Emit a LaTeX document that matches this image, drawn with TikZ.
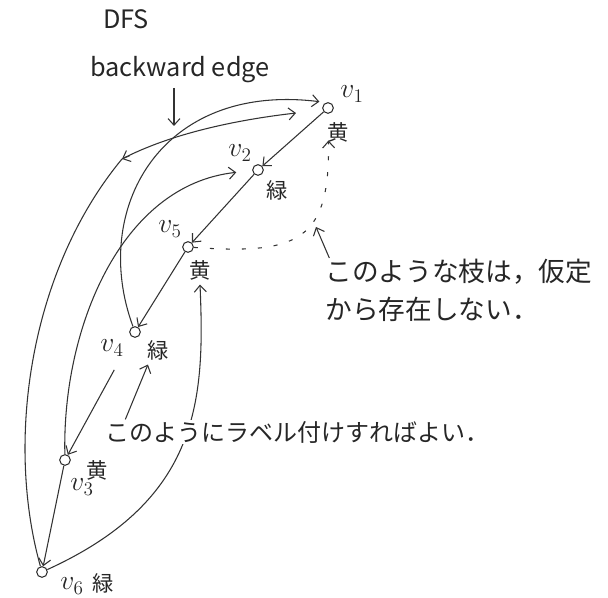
\documentclass[tikz,border=0pt]{standalone}
\usepackage{fontspec}
\setmainfont{Noto Sans CJK JP}
\usetikzlibrary{arrows.meta}

\begin{document}
\begin{tikzpicture}[x=0.75pt,y=-0.75pt,
		vert/.style={draw=black!80,circle,inner sep=0pt,minimum size=8pt,line width=0.8pt},
		arista/.style={draw=black!80,line width=0.8pt,-{Straight Barb[length=5pt,width=9pt]}},
		punteada/.style={arista,dash pattern=on 3pt off 9pt},
		nombre/.style={text=black!85,font=\fontsize{20}{22}\selectfont},
		etiq/.style={text=black!85,font=\fontsize{16}{18}\selectfont},
		titulo/.style={text=black!85,font=\fontsize{19}{22}\selectfont},
		nota/.style={text=black!85,align=left,fill=white,inner sep=1pt}]
		
		% Marco del dibujo
		\useasboundingbox (0,0) rectangle (608,598);
		
		% Vertices del arbol DFS
		\node[vert] (v1) at (328,108) {};
		\node[vert] (v2) at (258,170) {};
		\node[vert] (v5) at (188,247) {};
		\node[vert] (v4) at (135,332) {};
		\node[vert] (v3) at (65,460) {};
		\node[vert] (v6) at (42,572) {};
		
		% Nombres y colores de los vertices
		\node[nombre] (n1) at (352,94) {$v_1$};
		\node[nombre] (n2) at (240,153) {$v_2$};
		\node[nombre] (n5) at (170,229) {$v_5$};
		\node[nombre] (n4) at (112,348) {$v_4$};
		\node[nombre] (n3) at (82,487) {$v_3$};
		\node[nombre] (n6) at (72,586) {$v_6$};
		\node[etiq] (c1) at (338,132) {黄};
		\node[etiq] (c2) at (277,190) {緑};
		\node[etiq] (c5) at (200,270) {黄};
		\node[etiq] (c4) at (158,350) {緑};
		\node[etiq] (c3) at (97,470) {黄};
		\node[etiq] (c6) at (103,583) {緑};
		
		% Aristas del arbol
		\draw[arista] (v1) -- (v2);
		\draw[arista] (v2) -- (v5);
		\draw[arista] (v5) -- (v4);
		\draw[arista,shorten <=28pt] (v4) -- (v3);
		\draw[arista] (v3) -- (v6);
		
		% Aristas de retroceso
		\draw[arista,shorten >=5pt] (v4) .. controls (90,210) and (160,82) .. (v1.110);
		\coordinate (m6) at (122,159);
		\draw[arista,shorten >=20pt] (v6) .. controls (5,440) and (30,270) .. (m6)
			.. controls (170,134) and (235,120) .. (v1.200);
		\draw[arista] (m6) ++(8,-3.5) -- (m6);
		\draw[arista,shorten >=12pt] (v3) .. controls (62,330) and (120,185) .. (v2);
		\draw[arista] (v6) .. controls (200,500) and (205,400) .. (c5.south);
		
		% Arista que no puede existir (punteada)
		\draw[punteada,shorten >=20pt] (v5) .. controls (300,255) and (330,240) .. (v1);
		
		% Titulo y etiqueta "backward edge"
		\node[titulo] (dfs) at (126,19) {DFS};
		\node[titulo] (bwd) at (180,70) {backward edge};
		\coordinate (cruce) at (174,126);
		\draw[arista] (bwd.south -| cruce) -- (cruce);
		
		% Notas con sus flechas
		\node[nota,anchor=north west,font=\fontsize{20}{28}\selectfont] (nota1) at (324,258)
			{このような枝は，仮定\\から存在しない．};
		\node[nota,anchor=west,font=\fontsize{18}{20}\selectfont] (nota2) at (104,432)
			{このようにラベル付けすればよい．};
		\coordinate (hueco) at (316,227);
		\draw[arista] ([xshift=4pt]nota1.north west) -- (hueco);
		\draw[arista] ([xshift=16pt]nota2.north west) -- ([xshift=4pt]c4.south west);
		
	\end{tikzpicture}
\end{document}
